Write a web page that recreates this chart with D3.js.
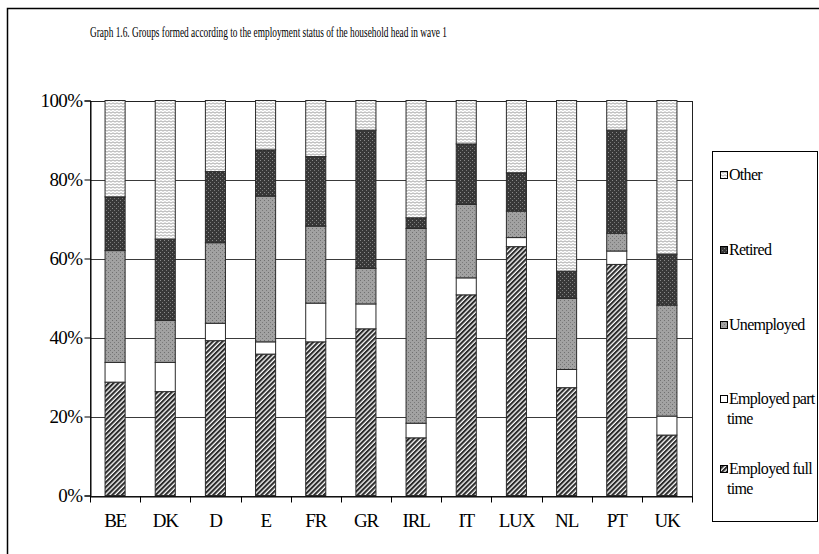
<!DOCTYPE html>
<html>
<head>
<meta charset="utf-8">
<script src="https://cdn.jsdelivr.net/npm/d3@7"></script>
<style>
  body { margin: 0; background: #fff; }
  svg { display: block; }
  svg text { font-family: "Liberation Serif", "Times New Roman", "DejaVu Serif", serif; }
</style>
</head>
<body>
<svg id="chart" width="819" height="554"></svg>
<script>
const countries  = ["BE", "DK", "D", "E", "FR", "GR", "IRL", "IT", "LUX", "NL", "PT", "UK"];
const fullTime   = [28.7, 26.3, 39.2, 35.8, 38.9, 42.2, 14.6, 50.8, 63.0, 27.3, 58.5, 15.3];
const partTime   = [ 5.0,  7.4,  4.4,  3.1,  9.8,  6.3,  3.7,  4.3,  2.3,  4.6,  3.4,  4.8];
const unemployed = [28.3, 10.6, 20.4, 36.9, 19.5,  9.0, 49.3, 18.6,  6.7, 18.0,  4.5, 28.1];
const retired    = [13.6, 20.6, 18.0, 11.7, 17.6, 35.0,  2.7, 15.3,  9.7,  6.9, 26.1, 12.9];
const other      = [24.4, 35.1, 18.0, 12.5, 14.2,  7.5, 29.7, 11.0, 18.3, 43.2,  7.5, 38.9];
const yTicks     = [0, 20, 40, 60, 80, 100];

const seriesKeys = ["ft", "pt", "un", "re", "ot"];
const legendItems = [
  { key: "ot", lines: ["Other"] },
  { key: "re", lines: ["Retired"] },
  { key: "un", lines: ["Unemployed"] },
  { key: "pt", lines: ["Employed part", "time"] },
  { key: "ft", lines: ["Employed full", "time"] }
];

const rows = countries.map((c, i) => ({
  country: c, ft: fullTime[i], pt: partTime[i], un: unemployed[i], re: retired[i], ot: other[i]
}));

const svg = d3.select("#chart");
const defs = svg.append("defs");

// fill patterns
const pFt = defs.append("pattern").attr("id", "p-ft")
  .attr("patternUnits", "userSpaceOnUse").attr("width", 3.4).attr("height", 3.4)
  .attr("patternTransform", "rotate(45)");
pFt.append("rect").attr("width", 3.4).attr("height", 3.4).attr("fill", "#fff");
pFt.append("rect").attr("width", 2.1).attr("height", 3.4).attr("fill", "#2b2b2b");

defs.append("pattern").attr("id", "p-pt")
  .attr("patternUnits", "userSpaceOnUse").attr("width", 4).attr("height", 4)
  .append("rect").attr("width", 4).attr("height", 4).attr("fill", "#fff");

const pUn = defs.append("pattern").attr("id", "p-un")
  .attr("patternUnits", "userSpaceOnUse").attr("width", 4).attr("height", 4);
pUn.append("rect").attr("width", 4).attr("height", 4).attr("fill", "#a2a2a2");
pUn.append("rect").attr("x", 0).attr("y", 0).attr("width", 1).attr("height", 1).attr("fill", "#707070");
pUn.append("rect").attr("x", 2).attr("y", 2).attr("width", 1).attr("height", 1).attr("fill", "#7a7a7a");

const pRe = defs.append("pattern").attr("id", "p-re")
  .attr("patternUnits", "userSpaceOnUse").attr("width", 4).attr("height", 4);
pRe.append("rect").attr("width", 4).attr("height", 4).attr("fill", "#383838");
pRe.append("rect").attr("x", 0).attr("y", 0).attr("width", 1).attr("height", 1).attr("fill", "#8a8a8a");
pRe.append("rect").attr("x", 2).attr("y", 2).attr("width", 1).attr("height", 1).attr("fill", "#777");

const pOt = defs.append("pattern").attr("id", "p-ot")
  .attr("patternUnits", "userSpaceOnUse").attr("width", 4).attr("height", 3);
pOt.append("rect").attr("width", 4).attr("height", 3).attr("fill", "#fff");
pOt.append("path").attr("d", "M0,1.5 L1,0.8 L2,1.5 L3,2.2 L4,1.5")
  .attr("fill", "none").attr("stroke", "#7a7a7a").attr("stroke-width", 0.7);

const fillOf = k => `url(#p-${k})`;

// outer frame
svg.append("rect").attr("x", 7.5).attr("y", 8.5).attr("width", 840).attr("height", 600)
  .attr("fill", "none").attr("stroke", "#000").attr("stroke-width", 1.5);

svg.append("text")
  .attr("x", 268.5).attr("y", 37)
  .attr("text-anchor", "middle")
  .attr("font-size", 14.5)
  .attr("textLength", 357).attr("lengthAdjust", "spacingAndGlyphs")
  .text("Graph 1.6. Groups formed according to the employment status of the household head in wave 1");

const margin = { left: 90, right: 692, top: 100.5, bottom: 495.5 };

const x = d3.scaleBand().domain(countries)
  .range([margin.left, margin.right]).paddingInner(0.6).paddingOuter(0.3);
const y = d3.scaleLinear().domain([0, 100]).range([margin.bottom, margin.top]);

// grid
svg.append("g").selectAll("line")
  .data(yTicks.filter(t => t > 0 && t < 100))
  .join("line")
  .attr("x1", margin.left).attr("x2", margin.right)
  .attr("y1", d => Math.round(y(d)) + 0.5).attr("y2", d => Math.round(y(d)) + 0.5)
  .attr("stroke", "#3a3a3a").attr("stroke-width", 1);

// plot border
svg.append("rect")
  .attr("x", margin.left + 0.5).attr("y", Math.round(y(100)) + 0.5)
  .attr("width", margin.right - margin.left)
  .attr("height", y(0) - y(100))
  .attr("fill", "none").attr("stroke", "#222").attr("stroke-width", 1);

const stacked = d3.stack().keys(seriesKeys)(rows);

svg.append("g").selectAll("g")
  .data(stacked)
  .join("g")
  .attr("fill", d => fillOf(d.key))
  .selectAll("rect")
  .data(d => d)
  .join("rect")
  .attr("x", d => x(d.data.country))
  .attr("y", d => y(d[1]))
  .attr("width", x.bandwidth())
  .attr("height", d => y(d[0]) - y(d[1]))
  .attr("stroke", "#2a2a2a").attr("stroke-width", 1);

// axes
const yAxis = svg.append("g")
  .attr("transform", `translate(${margin.left + 0.5},0)`)
  .call(d3.axisLeft(y).tickValues(yTicks).tickSize(6).tickPadding(2).tickFormat(d => d + "%"));
yAxis.attr("font-family", null);
yAxis.select(".domain").attr("stroke", "#000");
yAxis.selectAll(".tick line").attr("stroke", "#000");
yAxis.selectAll("text").attr("font-size", 19)
  .attr("fill", "#000").attr("letter-spacing", -0.6);

const xAxis = svg.append("g")
  .attr("transform", `translate(0,${Math.round(y(0)) + 0.5})`)
  .call(d3.axisBottom(x).tickSize(0).tickPadding(17));
xAxis.attr("font-family", null);
xAxis.select(".domain").attr("stroke", "#000");
xAxis.selectAll("text").attr("font-size", 19)
  .attr("fill", "#000").attr("letter-spacing", -1.2);

// x ticks on band boundaries
const step = x.step();
const bounds = countries.map(c => x(c) - (step - x.bandwidth()) / 2).concat([margin.right]);
xAxis.append("g").selectAll("line")
  .data(bounds)
  .join("line")
  .attr("x1", d => Math.round(d) + 0.5).attr("x2", d => Math.round(d) + 0.5)
  .attr("y1", 0).attr("y2", 6)
  .attr("stroke", "#000");

// legend
const lg = svg.append("g");
lg.append("rect").attr("x", 712.5).attr("y", 151.5).attr("width", 105).attr("height", 370)
  .attr("fill", "#fff").attr("stroke", "#000").attr("stroke-width", 1);

const legendY = [175, 250, 325, 399, 469];
legendItems.forEach((item, i) => {
  const cy = legendY[i];
  lg.append("rect").attr("x", 720.5).attr("y", cy - 3.5).attr("width", 7).attr("height", 7)
    .attr("fill", fillOf(item.key)).attr("stroke", "#000").attr("stroke-width", 1);
  item.lines.forEach((line, j) => {
    lg.append("text")
      .attr("x", j === 0 ? 729 : 727).attr("y", cy + 5 + j * 20)
      .attr("font-size", 16).attr("letter-spacing", -0.7)
      .text(line);
  });
});
</script>
</body>
</html>
